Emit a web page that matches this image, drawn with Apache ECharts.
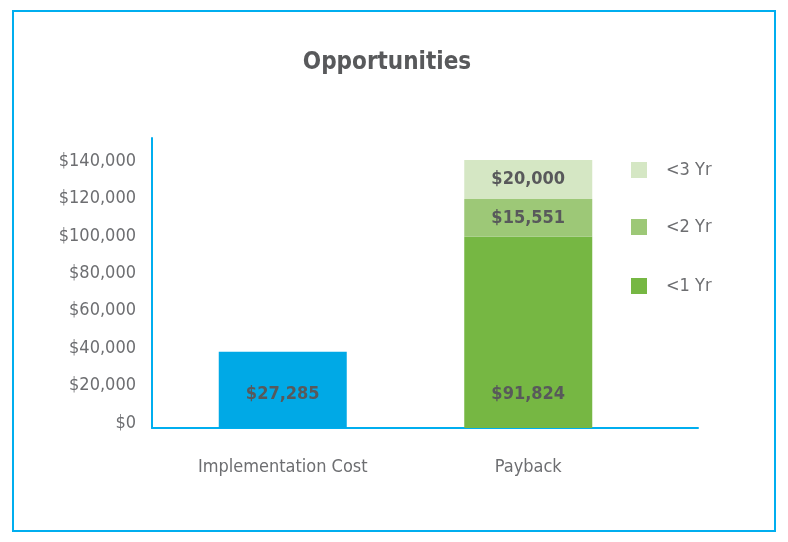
<!DOCTYPE html>
<html lang="en">
<head>
    <meta charset="UTF-8">
    <title>Opportunities</title>
    <script src="https://cdn.jsdelivr.net/npm/echarts@6.0.0/dist/echarts.min.js"></script>
    <style>
        html, body { margin: 0; padding: 0; background: #fff; }
        #chart { width: 788px; height: 542px; }
    </style>
</head>
<body>
    <div id="chart"></div>
    <script>
        // data
        const categories = ['Implementation Cost', 'Payback'];
        const costValues = [40800, '-'];
        const yr1Values = ['-', 102200];
        const yr2Values = ['-', 20150];
        const yr3Values = ['-', 20850];
        // printed labels (as shown on the bars)
        const costLabels = ['$27,285', ''];
        const yr1Labels = ['', '$91,824'];
        const yr2Labels = ['', '$15,551'];
        const yr3Labels = ['', '$20,000'];
        const yTicks = [0, 20000, 40000, 60000, 80000, 100000, 120000, 140000];

        const FONT = '"DejaVu Sans Condensed", "Liberation Sans Narrow", sans-serif';
        const BLUE = '#00AEEF';
        const yMax = 155000;

        const chart = echarts.init(document.getElementById('chart'));

        function money(v) {
            return '$' + v.toLocaleString('en-US');
        }

        function barLabel(labels, pos, dist) {
            return {
                show: true,
                position: pos,
                distance: dist,
                fontFamily: FONT,
                fontWeight: 'bold',
                fontSize: 18,
                color: '#58595B',
                formatter: p => labels[p.dataIndex]
            };
        }

        const legendBase = {
            orient: 'vertical',
            left: 631,
            padding: 0,
            itemWidth: 16,
            itemHeight: 16,
            icon: 'rect',
            selectedMode: false,
            textStyle: {
                fontFamily: FONT,
                fontSize: 18,
                color: '#6D6E71',
                lineHeight: 16,
                padding: [0, 0, 0, 14]
            }
        };

        const option = {
            animation: false,
            graphic: [
                {
                    type: 'rect',
                    shape: { x: 13, y: 11, width: 762, height: 520 },
                    style: { fill: 'none', stroke: BLUE, lineWidth: 2 }
                },
                {
                    type: 'text',
                    x: 387,
                    y: 63,
                    style: {
                        text: 'Opportunities',
                        font: 'bold 24px ' + FONT,
                        fill: '#58595B',
                        textAlign: 'center',
                        textVerticalAlign: 'middle'
                    }
                }
            ],
            legend: [
                Object.assign({ top: 161, data: ['<3 Yr'] }, legendBase),
                Object.assign({ top: 218, data: ['<2 Yr'] }, legendBase),
                Object.assign({ top: 277, data: ['<1 Yr'] }, legendBase)
            ],
            grid: [
                // frame grid: carries the axis lines and the value labels
                { left: 152, top: 138, width: 546, height: 290 },
                // data grid: where the bars sit
                { left: 160, top: 138, width: 491, height: 290 }
            ],
            xAxis: [
                {
                    gridIndex: 0,
                    type: 'value',
                    min: 0,
                    max: 1,
                    axisLine: { show: true, lineStyle: { color: BLUE, width: 2 } },
                    axisTick: { show: false },
                    axisLabel: { show: false },
                    splitLine: { show: false }
                },
                {
                    gridIndex: 1,
                    type: 'category',
                    data: categories,
                    axisLine: { show: false },
                    axisTick: { show: false },
                    axisLabel: {
                        interval: 0,
                        margin: 30,
                        fontFamily: FONT,
                        fontSize: 18,
                        color: '#6D6E71'
                    }
                }
            ],
            yAxis: [
                {
                    gridIndex: 0,
                    type: 'value',
                    min: 0,
                    max: yMax,
                    interval: 20000,
                    axisLine: { show: true, lineStyle: { color: BLUE, width: 2 } },
                    axisTick: { show: false },
                    splitLine: { show: false },
                    axisLabel: {
                        margin: 16,
                        fontFamily: FONT,
                        fontSize: 18,
                        color: '#6D6E71',
                        verticalAlign: 'bottom',
                        lineHeight: 10,
                        formatter: v => (yTicks.indexOf(v) >= 0 ? money(v) : '')
                    }
                },
                {
                    gridIndex: 1,
                    type: 'value',
                    min: 0,
                    max: yMax,
                    show: false,
                    splitLine: { show: false }
                }
            ],
            series: [
                {
                    name: 'Implementation Cost',
                    type: 'bar',
                    xAxisIndex: 1,
                    yAxisIndex: 1,
                    stack: 'total',
                    barWidth: 128,
                    data: costValues,
                    itemStyle: { color: '#00A9E6' },
                    label: barLabel(costLabels, 'insideBottom', 25)
                },
                {
                    name: '<1 Yr',
                    type: 'bar',
                    xAxisIndex: 1,
                    yAxisIndex: 1,
                    stack: 'total',
                    barWidth: 128,
                    data: yr1Values,
                    itemStyle: { color: '#76B743' },
                    label: barLabel(yr1Labels, 'insideBottom', 25)
                },
                {
                    name: '<2 Yr',
                    type: 'bar',
                    xAxisIndex: 1,
                    yAxisIndex: 1,
                    stack: 'total',
                    barWidth: 128,
                    data: yr2Values,
                    itemStyle: { color: '#9DC877' },
                    label: barLabel(yr2Labels, 'inside', 0)
                },
                {
                    name: '<3 Yr',
                    type: 'bar',
                    xAxisIndex: 1,
                    yAxisIndex: 1,
                    stack: 'total',
                    barWidth: 128,
                    data: yr3Values,
                    itemStyle: { color: '#D5E7C4' },
                    label: barLabel(yr3Labels, 'inside', 0)
                }
            ]
        };

        chart.setOption(option);
    </script>
</body>
</html>
